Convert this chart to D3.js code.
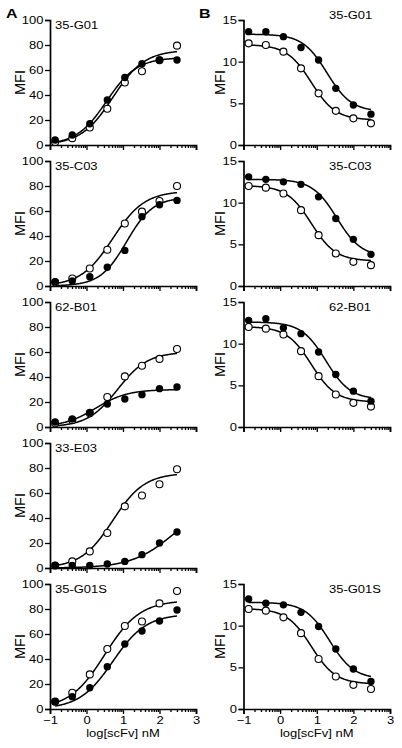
<!DOCTYPE html>
<html>
<head>
<meta charset="utf-8">
<script src="https://cdn.jsdelivr.net/npm/d3@7"></script>
<style>
html,body{margin:0;padding:0;background:#fff;}
svg text{font-family:"Liberation Sans",Arial,Helvetica,sans-serif;fill:#000;}
</style>
</head>
<body>
<svg id="chart" width="402" height="748"></svg>
<script>
// ---------- data ----------
const xLog = [-0.86, -0.39, 0.09, 0.57, 1.05, 1.52, 2.0, 2.48];
const xTicks = [-1, 0, 1, 2, 3];
const yTicksA = [0, 20, 40, 60, 80, 100];
const yTicksB = [0, 5, 10, 15];

const namesA = ["35-G01", "35-C03", "62-B01", "33-E03", "35-G01S"];
const filledA = [
  [4, 8, 17, 36, 54, 65, 68, 68],
  [3.5, 4, 7.5, 15, 28.5, 55.5, 65, 68.5],
  [4, 6.4, 11.7, 18.4, 22.4, 25.9, 30.7, 32],
  [2, 2, 2, 3.2, 5.3, 10.7, 20, 28.8],
  [5.9, 9.9, 17, 33.9, 52, 62.4, 70.4, 79.2]
];
const openA = [
  [2.5, 5.5, 14, 29, 50, 59, 67.8, 79.5],
  [3, 6, 14, 29, 50, 59.5, 68, 80],
  [3, 5.5, 11, 24, 40.5, 49, 54.5, 62.4],
  [2, 5.3, 13.3, 28, 49.3, 58, 67, 79],
  [5.9, 13, 27.7, 48, 66.4, 70, 84.5, 94.4]
];
// fitted curves: [top, bottom, logEC50, hill]
const fitFilledA = [
  [70, 0, 0.55, 1.05],
  [71, 0, 1.1, 1.2],
  [30, 0, 0.25, 1.0],
  [55, 0, 2.4, 0.75],
  [76, 0, 0.72, 0.95]
];
const fitOpenA = [
  [76, 0, 0.72, 1.0],
  [76, 0, 0.72, 1.0],
  [60, 0, 0.85, 1.05],
  [76, 0, 0.72, 1.0],
  [87, 0, 0.5, 0.9]
];

const namesB = ["35-G01", "35-C03", "62-B01", "35-G01S"];
const rowsB = [0, 1, 2, 4];
const filledB = [
  [13.6, 13.6, 13.0, 11.7, 10.2, 6.8, 4.8, 3.7],
  [13.1, 12.8, 12.5, 12.2, 10.7, 8.1, 5.6, 3.8],
  [12.8, 13.0, 11.9, 11.2, 9.0, 6.3, 4.3, 3.1],
  [13.2, 12.7, 12.5, 11.6, 9.9, 7.2, 4.8, 3.3]
];
const openB = [
  [12.2, 12.0, 11.2, 9.2, 6.2, 4.1, 3.2, 2.6],
  [12.0, 11.8, 11.1, 9.1, 6.1, 3.9, 2.9, 2.5],
  [12.0, 11.8, 11.1, 9.1, 6.1, 3.9, 2.9, 2.45],
  [12.0, 11.8, 11.0, 9.1, 6.0, 3.9, 2.9, 2.4]
];
// decreasing fits: [top, bottom, logEC50, hill]
const fitFilledB = [
  [13.3, 4.0, 1.28, 1.3],
  [12.8, 3.5, 1.55, 1.3],
  [12.6, 3.3, 1.25, 1.3],
  [12.8, 3.6, 1.35, 1.3]
];
const fitOpenB = [
  [12.05, 3.0, 0.85, 1.3],
  [12.05, 3.0, 0.85, 1.3],
  [12.05, 3.0, 0.85, 1.3],
  [12.05, 3.0, 0.85, 1.3]
];

// ---------- layout ----------
const svg = d3.select("#chart");
const rowTops = [20, 161, 302, 443, 584];
const panelH = 125;
const colA = {x0: 50, x1: 196};
const colB = {x0: 243.5, x1: 390};
const FS = 13;
const SQUISH = 0.82;

function rising(p, x) { return p[1] + (p[0] - p[1]) / (1 + Math.pow(10, (p[2] - x) * p[3])); }
function falling(p, x) { return p[1] + (p[0] - p[1]) / (1 + Math.pow(10, (x - p[2]) * p[3])); }

const minorVals = [];
for (let d = -1; d < 3; d++) for (let m = 2; m <= 9; m++) minorVals.push(d + Math.log10(m));

function panel(col, top, yMax, yTicks, name, filled, open, fitF, fitO, fn, showX, labelPos) {
  const x = d3.scaleLinear().domain([-1, 3]).range([col.x0, col.x1]);
  const y = d3.scaleLinear().domain([0, yMax]).range([top + panelH, top]);
  const g = svg.append("g");

  g.append("g").attr("transform", `translate(${col.x0},0)`)
    .call(d3.axisLeft(y).tickValues(yTicks).tickSize(5).tickPadding(1.5).tickFormat(d3.format("d")));
  g.append("g").attr("transform", `translate(0,${top + panelH})`)
    .call(d3.axisBottom(x).tickValues(xTicks).tickSize(5).tickPadding(2)
      .tickFormat(showX ? d3.format("d") : () => ""));
  g.append("g").attr("transform", `translate(0,${top + panelH})`)
    .call(d3.axisBottom(x).tickValues(minorVals).tickSize(3).tickFormat(() => ""))
    .select(".domain").remove();

  g.selectAll(".domain").attr("stroke", "#000").attr("stroke-width", 1.7);
  g.selectAll(".tick line").attr("stroke", "#000").attr("stroke-width", 1.3);
  g.selectAll(".tick text").attr("font-size", FS).attr("fill", "#000").classed("sq", true)
    .style("font-family", '"Liberation Sans", Arial, sans-serif');

  g.append("text")
    .attr("transform", `translate(${labelPos.mfiX},${top + panelH / 2}) rotate(-90)`)
    .attr("text-anchor", "middle").attr("font-size", 14.5).text("MFI");

  g.append("text").attr("class", "sq").attr("x", labelPos.nameX).attr("y", top + labelPos.nameDy)
    .attr("font-size", FS).text(name);

  const line = d3.line().x(d => x(d[0])).y(d => y(d[1]));
  const xs = d3.range(xLog[0], xLog[xLog.length - 1] + 0.001, 0.02);
  [fitO, fitF].forEach(p => {
    g.append("path").datum(xs.map(v => [v, fn(p, v)]))
      .attr("d", line).attr("fill", "none").attr("stroke", "#000").attr("stroke-width", 1.5);
  });

  g.selectAll(".o").data(open).enter().append("circle")
    .attr("cx", (d, i) => x(xLog[i])).attr("cy", d => y(d)).attr("r", 3.5)
    .attr("fill", "#fff").attr("stroke", "#000").attr("stroke-width", 1.1);
  g.selectAll(".f").data(filled).enter().append("circle")
    .attr("cx", (d, i) => x(xLog[i])).attr("cy", d => y(d)).attr("r", 3.7)
    .attr("fill", "#000");

  if (showX) {
    g.append("text").attr("class", "sq").attr("x", (col.x0 + col.x1) / 2).attr("y", top + panelH + 28.5)
      .attr("text-anchor", "middle").attr("font-size", FS).text("log[scFv] nM");
  }
}

namesA.forEach((n, i) => {
  panel(colA, rowTops[i], 100, yTicksA, n, filledA[i], openA[i], fitFilledA[i], fitOpenA[i], rising,
    i === 4, {mfiX: 25, nameX: 55, nameDy: 9.5});
});
namesB.forEach((n, i) => {
  const r = rowsB[i];
  panel(colB, rowTops[r], 15, yTicksB, n, filledB[i], openB[i], fitFilledB[i], fitOpenB[i], falling,
    r === 4, {mfiX: 225, nameX: 329, nameDy: r === 0 ? 0 : 9.5});
});

svg.append("text").attr("class", "sq").attr("x", 6).attr("y", 19).attr("font-size", 16).attr("font-weight", "bold").text("A");
svg.append("text").attr("class", "sq").attr("x", 199).attr("y", 19).attr("font-size", 16).attr("font-weight", "bold").text("B");

// vertical squish of text, about each text's own vertical centre
svg.selectAll("text.sq").each(function () {
  const r = this.getBoundingClientRect();
  const cyScreen = r.top + r.height / 2;
  const pm = this.parentNode.getScreenCTM();
  const cy = cyScreen - pm.f;
  const old = this.getAttribute("transform") || "";
  this.setAttribute("transform", `translate(0,${cy}) scale(1,${SQUISH}) translate(0,${-cy}) ${old}`);
});
</script>
</body>
</html>
